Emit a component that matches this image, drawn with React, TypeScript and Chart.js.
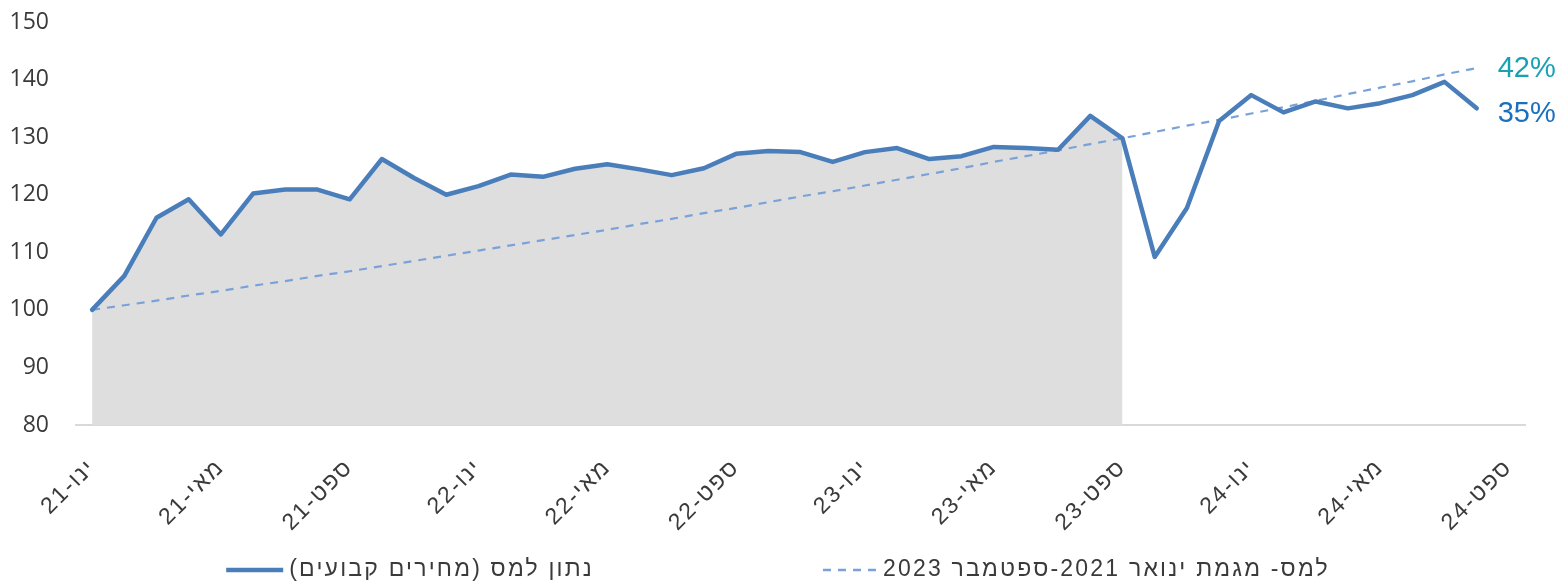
import React, { useEffect, useRef } from 'react';
import { Chart, registerables } from 'chart.js';

Chart.register(...registerables);

const categories: string[] = [
  'ינו-21', 'פבר-21', 'מרץ-21', 'אפר-21', 'מאי-21', 'יונ-21', 'יול-21', 'אוג-21', 'ספט-21', 'אוק-21', 'נוב-21', 'דצמ-21',
  'ינו-22', 'פבר-22', 'מרץ-22', 'אפר-22', 'מאי-22', 'יונ-22', 'יול-22', 'אוג-22', 'ספט-22', 'אוק-22', 'נוב-22', 'דצמ-22',
  'ינו-23', 'פבר-23', 'מרץ-23', 'אפר-23', 'מאי-23', 'יונ-23', 'יול-23', 'אוג-23', 'ספט-23', 'אוק-23', 'נוב-23', 'דצמ-23',
  'ינו-24', 'פבר-24', 'מרץ-24', 'אפר-24', 'מאי-24', 'יונ-24', 'יול-24', 'אוג-24', 'ספט-24',
];

const incomeValues: number[] = [
  100.0, 105.9, 116.0, 119.2, 113.1, 120.2, 120.9, 120.9, 119.2, 126.2, 122.9, 120.0,
  121.5, 123.5, 123.1, 124.5, 125.3, 124.4, 123.4, 124.6, 127.1, 127.6, 127.4, 125.7,
  127.4, 128.1, 126.2, 126.7, 128.3, 128.1, 127.8, 133.7, 129.8, 109.2, 117.7, 132.8,
  137.3, 134.3, 136.2, 135.0, 135.9, 137.3, 139.6, 135.0,
];

const trendValues: number[] = [
  100.0, 100.8, 101.6, 102.5, 103.3, 104.2, 105.0, 105.9, 106.7, 107.6, 108.5, 109.4,
  110.3, 111.2, 112.1, 113.0, 113.9, 114.9, 115.8, 116.8, 117.7, 118.7, 119.7, 120.6,
  121.6, 122.6, 123.6, 124.6, 125.7, 126.7, 127.7, 128.8, 129.8, 130.9, 132.0, 133.0,
  134.1, 135.2, 136.3, 137.5, 138.6, 139.7, 140.9, 142.0,
];

// shaded base period: Jan-2021 .. Sep-2023
const basePeriodEndIndex = 32;

const yTicks = { min: 80, max: 150, step: 10 };

const seriesLabels = ['נתון למס (מחירים קבועים)', 'למס- מגמת ינואר 2021-ספטמבר 2023'];
const endLabels = ['42%', '35%'];

const FONT = "'Open Sans', 'DejaVu Sans', sans-serif";
const HEB_FONT = "'Liberation Sans', Arial, sans-serif";
const LINE_COLOR = '#4A7EBB';
const TREND_COLOR = '#7AA2D8';
const TEXT_COLOR = '#3A3A3A';

const overlayPlugin = {
  id: 'overlayTexts',
  beforeDraw(chart: any) {
    const xs = chart.scales.x;
    if (xs && !xs.__spaced) {
      const orig = xs.drawLabels.bind(xs);
      xs.drawLabels = (area: any) => {
        const c = xs.ctx;
        c.save();
        c.letterSpacing = '2px';
        orig(area);
        c.restore();
      };
      xs.__spaced = true;
    }
  },
  afterDraw(chart: any) {
    const { ctx, scales } = chart;
    const xs = scales.x;
    const ys = scales.y;
    const lastIdx = incomeValues.length - 1;
    const lx = xs.getPixelForValue(lastIdx) + 21;
    ctx.save();
    ctx.font = `29px 'Liberation Sans', Arial, sans-serif`;
    ctx.textAlign = 'left';
    ctx.textBaseline = 'middle';
    ctx.fillStyle = '#17A2B3';
    ctx.fillText(endLabels[0], lx, ys.getPixelForValue(trendValues[lastIdx]) + 1);
    ctx.fillStyle = '#1A70BF';
    ctx.fillText(endLabels[1], lx, ys.getPixelForValue(incomeValues[lastIdx]) + 6);
    ctx.restore();

    // legend
    const ds = chart.data.datasets;
    const items = [0, 1].map((i) => ds[i]);
    ctx.save();
    ctx.font = `23px ${HEB_FONT}`;
    ctx.letterSpacing = '2.2px';
    ctx.direction = 'rtl';
    ctx.textAlign = 'left';
    ctx.textBaseline = 'middle';
    const lineW = [57, 54];
    const gapText = 6;
    const gapItems = 229;
    const widths = items.map((d: any) => ctx.measureText(d.label).width);
    const total = lineW[0] + gapText + widths[0] + gapItems + lineW[1] + gapText + widths[1];
    let x = (chart.width - total) / 2 - 4;
    const y = 570;
    items.forEach((d: any, i: number) => {
      ctx.beginPath();
      ctx.strokeStyle = d.borderColor;
      ctx.lineWidth = i === 0 ? 4.5 : 2.5;
      ctx.setLineDash(d.borderDash || []);
      ctx.moveTo(x, y);
      ctx.lineTo(x + lineW[i], y);
      ctx.stroke();
      ctx.setLineDash([]);
      x += lineW[i] + gapText;
      ctx.fillStyle = TEXT_COLOR;
      ctx.fillText(d.label, x, y);
      x += widths[i] + gapItems;
    });
    ctx.restore();
  },
};

export default function App() {
  const ref = useRef<HTMLCanvasElement | null>(null);

  useEffect(() => {
    if (!ref.current) return;
    const chart = new Chart(ref.current, {
      type: 'line',
      data: {
        labels: categories,
        datasets: [
          {
            label: seriesLabels[0],
            data: incomeValues,
            borderColor: LINE_COLOR,
            borderWidth: 4.5,
            pointRadius: 0,
            tension: 0,
            fill: false,
            borderJoinStyle: 'round',
            borderCapStyle: 'round',
          },
          {
            label: seriesLabels[1],
            data: trendValues,
            borderColor: TREND_COLOR,
            borderWidth: 2.2,
            borderDash: [8, 7],
            pointRadius: 0,
            tension: 0,
            fill: false,
          },
          {
            label: 'base',
            data: incomeValues.slice(0, basePeriodEndIndex + 1),
            borderWidth: 0,
            borderColor: 'rgba(0,0,0,0)',
            backgroundColor: '#DEDEDE',
            pointRadius: 0,
            tension: 0,
            fill: 'start',
          },
        ],
      },
      options: {
        animation: false,
        responsive: false,
        maintainAspectRatio: false,
        layout: { padding: { top: 22, right: 39, left: 0, bottom: 0 } },
        plugins: {
          legend: { display: false },
          tooltip: { enabled: false },
        },
        scales: {
          x: {
            type: 'category',
            offset: true,
            grid: { display: false, drawTicks: false },
            border: { display: true, color: '#D9D9D9', width: 2 },
            ticks: {
              autoSkip: false,
              minRotation: 45,
              maxRotation: 45,
              padding: 29,
              color: TEXT_COLOR,
              font: { size: 23, family: HEB_FONT },
              callback: (_v: any, i: number) => (i % 4 === 0 ? categories[i] : null),
            },
            afterFit: (s: any) => {
              s.height = 584 - 425;
            },
          },
          y: {
            min: yTicks.min,
            max: yTicks.max,
            grid: { display: false, drawTicks: false },
            border: { display: false },
            ticks: {
              stepSize: yTicks.step,
              padding: 27,
              color: TEXT_COLOR,
              font: { size: 23, family: FONT },
            },
            afterFit: (s: any) => {
              s.width = 76;
              s.paddingTop = 0;
              s.paddingBottom = 0;
            },
          },
        },
      },
      plugins: [overlayPlugin],
    });
    return () => chart.destroy();
  }, []);

  return (
    <div style={{ position: 'fixed', left: 0, top: 0, width: 1564, height: 584, background: '#fff' }}>
      <canvas ref={ref} width={1564} height={584} style={{ display: 'block' }} />
    </div>
  );
}
